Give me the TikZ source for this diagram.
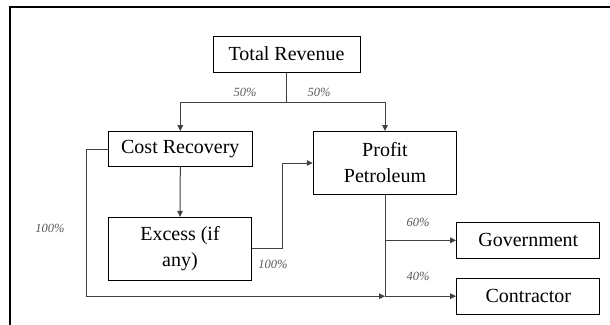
\documentclass[tikz,border=0pt]{standalone}
\usepackage{fontspec}
\setmainfont{Liberation Serif}
\usetikzlibrary{arrows.meta}
\begin{document}
\begin{tikzpicture}[x=1pt,y=-1pt,
  box/.style={draw=black,line width=1pt,fill=white,inner sep=0pt,align=center,
    font=\fontsize{20}{26}\selectfont},
  conn/.style={draw=black!75,line width=1pt},
  arr/.style={conn,-{Triangle[length=6pt,width=5.5pt]}},
  pct/.style={font=\fontsize{12.5}{14}\selectfont\itshape,text=black!65,inner sep=0pt}]
\useasboundingbox (0,0) rectangle (610,324);
\fill[white] (0,0) rectangle (610,324);
\draw[line width=2pt] (10,330) -- (10,7) -- (615,7);

\node[box,minimum width=147pt,minimum height=36pt] (tr) at (286.5,54) {Total Revenue};
\node[box,minimum width=144pt,minimum height=35pt] (cr) at (180.3,149.2) {Cost Recovery};
\node[box,minimum width=143.5pt,minimum height=63pt] (pp) at (385,163) {Profit\\Petroleum};
\node[box,minimum width=143.7pt,minimum height=62.7pt] (ex) at (180,248.7) {Excess (if\\any)};
\node[box,minimum width=143.3pt,minimum height=36pt] (gov) at (528.3,240.3) {Government};
\node[box,minimum width=143.3pt,minimum height=35.7pt] (con) at (528.3,296.2) {Contractor};

\coordinate (j) at (286.5,102.3);
\coordinate (k) at (pp.south |- con.west);
\coordinate (g) at (pp.south |- gov.west);

\draw[conn] (tr.south) -- (j);
\draw[arr] (j) -| (cr.north);
\draw[arr] (j) -| (pp.north);
\draw[arr] (cr.south) -- (ex.north);
\draw[arr] (ex.east) -- ++(30.6,0) |- (pp.west);
\draw[arr] (cr.west) -- ++(-21.3,0) |- (k);
\draw[conn] (pp.south) -- (k);
\draw[arr] (g) -- (gov.west);
\draw[arr] (k) -- (con.west);

\node[pct] (l1) at (245,92) {50\%};
\node[pct] (l2) at (319,92) {50\%};
\node[pct] (l3) at (273,264) {100\%};
\node[pct] (l4) at (50,228) {100\%};
\node[pct] (l5) at (418,222.7) {60\%};
\node[pct] (l6) at (418,276.7) {40\%};
\end{tikzpicture}
\end{document}
